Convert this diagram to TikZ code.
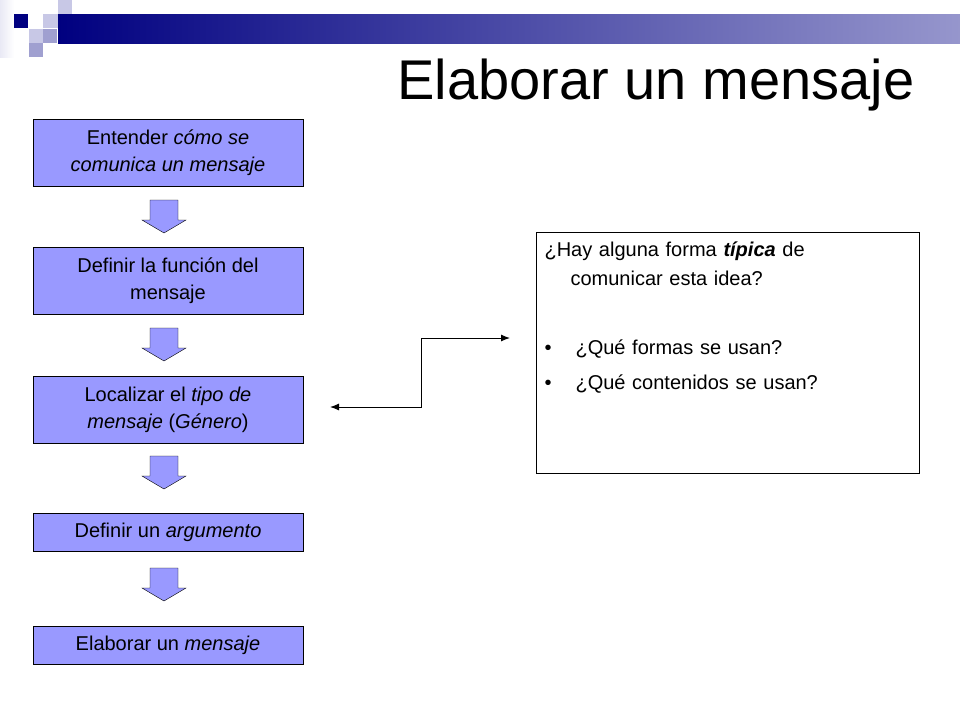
\documentclass[tikz,border=0pt]{standalone}
\usepackage{fontspec}
\setmainfont{Liberation Sans}
\usetikzlibrary{arrows.meta}
\definecolor{boxfill}{HTML}{9999FF}
\definecolor{navy}{HTML}{000080}
\definecolor{lav}{HTML}{C8C8E6}
\definecolor{lavmid}{HTML}{A0A0D0}
\newcommand\blockdown[2]{%
  \draw[fill=boxfill] (#1-14,#2) -- (#1+14,#2) -- (#1+14,#2+20) -- (#1+22,#2+20)
    -- (#1,#2+33) -- (#1-22,#2+20) -- (#1-14,#2+20) -- cycle;}
\begin{document}
\begin{tikzpicture}[x=1pt,y=-1pt,>={Latex[length=9pt,width=7pt]},
  stepbox/.style={draw,fill=boxfill,minimum width=270pt,align=center,font=\fontsize{20}{27}\selectfont}]
  \useasboundingbox (0,0) rectangle (960,720);
  % header decoration
  \fill[left color=lav!40,right color=white] (0,0) rectangle (14,57);
  \fill[navy] (14,14) rectangle (28,28);
  \fill[lav] (43,14) rectangle (58,28);
  \fill[lav] (58,0) rectangle (72,28);
  \fill[lav] (29,29) rectangle (43,43);
  \fill[lavmid] (43,29) rectangle (57,43);
  \fill[lavmid] (29,43) rectangle (43,57);
  \shade[left color=navy,right color=navy!25!lav] (58,14) rectangle (960,43);
  \node (title) at (656,85) {\fontsize{56}{60}\selectfont Elaborar un mensaje};

  \node[stepbox,minimum height=67pt] (s1) at (168,153) {Entender \emph{cómo se}\\\emph{comunica un mensaje}};
  \node[stepbox,minimum height=67pt] (s2) at (168,281) {Definir la función del\\mensaje};
  \node[stepbox,minimum height=67pt] (s3) at (168,410) {Localizar el \emph{tipo de}\\\emph{mensaje} (\emph{Género})};
  \node[stepbox,minimum height=38pt] (s4) at (168,532) {Definir un \emph{argumento}};
  \node[stepbox,minimum height=38pt] (s5) at (168,645) {Elaborar un \emph{mensaje}};

  \blockdown{164}{200}
  \blockdown{164}{328}
  \blockdown{164}{456}
  \blockdown{164}{568}

  \node[draw,minimum width=383pt,minimum height=241pt] (info) at (728,353) {};
  \node[anchor=north west,align=left,text width=370pt,font=\fontsize{20}{29}\selectfont] (txt) at (541,238)
    {¿Hay alguna forma \textbf{\emph{típica}} de\\\hspace*{26pt}comunicar esta idea?\\[40pt]
     •\hspace{24pt}¿Qué formas se usan?\\[6pt]
     •\hspace{24pt}¿Qué contenidos se usan?};
  \coordinate (c0) at (510,338);
  \coordinate (c1) at (421,338);
  \coordinate (c2) at (421,407);
  \coordinate (c3) at (330,407);
  \draw[<->,line width=1pt] (c0) -- (c1) -- (c2) -- (c3);
\end{tikzpicture}
\end{document}
